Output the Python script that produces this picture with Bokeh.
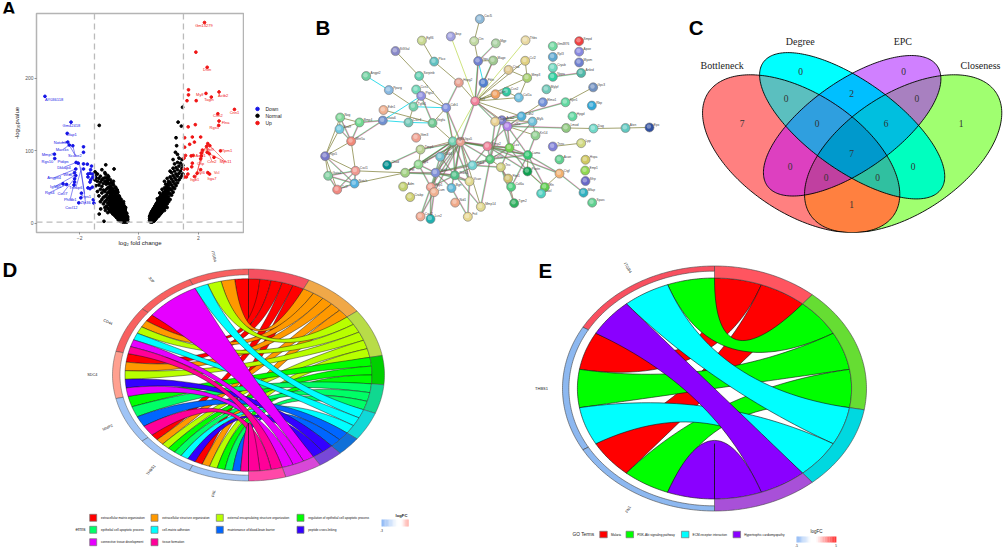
import math
from bokeh.plotting import figure
from bokeh.layouts import row, column
from bokeh.models import Range1d, FixedTicker, Span
from bokeh.core.properties import value
from bokeh.embed import file_html
from bokeh.resources import INLINE

SANS = "Liberation Sans"
SERIF = "Liberation Serif"

# ---------- A: volcano ----------
down_pts = [(-3.17,175),(-2.29,139.5),(-2.42,124),(-2.40,112),(-2.35,108),(-2.23,107),(-1.87,105.5),(-1.87,98),
 (-2.85,95.4),(-2.84,89.4),(-2.12,84),(-2.05,83),(-1.87,82),(-1.74,81.6),(-1.6,79),(-1.87,75),(-1.63,74),(-2.13,75),
 (-2.17,70),(-2.13,66),(-1.65,69),(-1.72,68),(-1.57,68),(-1.72,64),(-1.57,63),(-1.63,60),(-1.52,64),(-1.65,57),
 (-2.56,54.6),(-2.44,53.7),(-2.17,61.5),(-2.17,57),(-2.19,53),(-1.57,50),(-1.65,48),(-1.72,49),(-1.94,41.7),
 (-1.54,32.6),(-1.52,28),(-2.03,28.4),(-1.96,35.3)]
up_pts = [(2.21,276.6),(1.92,235.8),(2.30,215),(1.67,184),(1.67,177),(2.26,179),(2.70,181),(2.44,174),(1.93,169),
 (1.62,169),(3.22,157),(2.66,151),(2.70,141),(2.69,135),(1.90,136),(1.66,133),(1.54,118),(1.80,119),(2.08,119),
 (1.87,112),(1.54,105),(1.71,109),(2.32,110),(2.28,106),(2.39,107),(2.14,101),(2.75,100),(2.10,97),(1.57,93.6),
 (1.76,93),(1.83,93.6),(2.30,98),(2.37,96),(2.10,93),(1.52,90),(2.53,91),(2.08,89),(1.80,83),(1.78,78),(1.52,75),
 (1.63,75),(2.08,74),(2.32,70),(2.38,68),(1.65,68),(1.96,69),(1.54,64),(1.87,64.7),(1.6,64)]
normal_left = {-0.38:[3,6,9],-0.41:[2,5,8,11,14],-0.44:[3,6,9,12,15],-0.45:[22],-0.46:[2,4,8,11,14,17,20],-0.48:[3,5,7,10,13,16,19,22],
 -0.50:[2,6,9,12,15,18,21,24],-0.52:[27,30],-0.53:[4,7,10,13,16,19,23,26],-0.55:[2],-0.56:[3,6,9,12,15,18,21,25,28],
 -0.59:[5,8,11,14,17,20,24,27],-0.60:[30,33],-0.62:[4,7,10,13,16,19,22,26,30],-0.63:[3,33],-0.65:[6,9,12,15,18,21,25,29,36],
 -0.67:[35,38],-0.68:[7,11,14,17,20,23,27,32],-0.70:[5,10,24,28,33],-0.71:[8,12,15,18,22,26,30,35,43],-0.73:[38,42,46],
 -0.74:[10,13,17,20,24,28,33],-0.75:[8,12,16,21,25,30,35],-0.77:[9,14,18,22,26,31,37,48],-0.79:[44,50],-0.80:[12,16,20,24,29,34,40],
 -0.82:[11,15,18,22,26,30,36,42],-0.84:[14,19,23,27,32,38,44,75],-0.86:[48,53,58],-0.88:[13,18,22,26,31,36,43,55],
 -0.90:[15,20,24,28,33,38,45],-0.92:[17,21,25,30,35,41,47],-0.94:[50,56],-0.96:[16,23,28,33,39,46,52,60],-0.98:[18,25,30,35,42,48],
 -1.00:[19,26,31,37,44,50],-1.02:[55,60,64],-1.05:[15,21,28,35,42,49,56,66],-1.08:[58,62],-1.10:[24,32,39,47,54],-1.12:[80.7],
 -1.13:[18,63,68],-1.15:[22,30,37,44,58,70],-1.18:[3],-1.20:[27,36,46,55,62],-1.25:[33,42,51,60,74],-1.29:[20],-1.30:[30,47,57,65],
 -1.34:[13,135],-1.35:[38,53,62],-1.40:[44,58,68],-1.45:[52,63,69],-1.48:[60,65,71]}
normal_right = {0.36:[4,7,10],0.38:[5,8,11],0.39:[2,6,9,13],0.41:[3,6,9,12,15],0.43:[4,7,10,13,16],0.44:[2,5,8,11,14,17],
 0.46:[3,6,9,12,15,18],0.47:[4,7,10,13,16,19],0.49:[5,8,11,14,17,20],0.50:[3,6,9,12,15,18,21],0.52:[4,7,10,13,16,19,22],
 0.54:[5,8,11,14,17,20,24],0.56:[6,9,12,15,18,21,25],0.58:[7,10,13,16,19,23,27],0.60:[8,11,14,17,20,24,28],
 0.62:[9,12,15,18,21,25,29,34],0.64:[10,13,16,19,22,26,31],0.66:[10,14,17,20,24,28,33],0.68:[13,15,18,21,25,29,34],
 0.70:[12,16,19,23,27,31,36,42],0.72:[14,17,20,24,28,33],0.74:[14,18,22,26,30,35,39],0.76:[16,19,23,27,32,37],
 0.78:[16,20,24,28,33,38,47],0.80:[18,21,25,30,35,40],0.82:[19,23,27,32,37,43],0.84:[21,25,29,34,39],
 0.86:[18,26,31,36,42,49,58],0.88:[22,27,33,38,44],0.90:[24,29,35,41,47,54],0.93:[30,36,43,50],0.95:[22,27,33,40,46,53,62],
 0.98:[34,41,48,55],1.00:[30,37,45,52,58],1.05:[33,41,48,56,64,72],
 1.10:[39,46,53,61,70],1.15:[43,50,58,66,76,88],1.20:[48,55,63,72,82],1.23:[98],1.25:[52,60,68,77,118],1.27:[107],
 1.30:[56,65,74,84,95],1.32:[139.5],1.35:[60,69,79,90],1.40:[63,72,83],1.43:[134],1.45:[66,76,88],1.47:[160],1.48:[68,80]}
down_labels = [(-2.86,170.5,"AY036118"),(-2.28,135.5,"Gm42418"),(-2.28,123,"Cfap1"),(-2.66,111,"Notch3"),(-2.59,102,"Marcks"),
 (-2.16,93.6,"Scube2"),(-3.09,94.5,"Mmp7"),(-3.09,86,"Rgs10"),(-2.56,86,"Ptdips"),(-2.53,77.5,"Dkkap4"),(-2.36,67,"Wfdc1"),
 (-2.86,62.9,"Angptl4"),(-2.81,51.4,"Igfbp5"),(-3.01,42.7,"Rgs4"),(-2.58,40.8,"Cxcl7"),(-2.13,49,"Tnfaip6"),
 (-2.32,33,"Phldb1"),(-2.28,22,"Cxcl12"),(-1.80,28.4,"Zfp36"),(-1.79,37.6,"Trps1")]
up_labels = [(2.19,273,"Gm13279"),(2.30,211.4,"Dstn"),(2.05,178,"Mylf"),(2.84,176.5,"Actb2"),(2.36,170,"Tagln"),
 (3.22,153,"Cnn1"),(2.66,148,"Cnn2"),(2.92,139,"Flna"),(2.54,131.6,"Rgs5"),(2.97,100,"Tpm1"),(2.92,85,"Myh11"),
 (2.08,93,"Actn1"),(2.39,102,"Myl9"),(2.46,85,"Ccn2"),(2.08,83,"Cnp"),(2.08,70,"Myl6"),(2.62,70,"Vcl"),
 (2.46,62,"Itga7"),(1.88,61,"Itgb1")]
down_leaders = [(-2.12,84,-2.52,77.5),(-2.01,83,-1.83,41),(-2.17,70,-2.36,67),(-2.17,66,-2.81,51.4),(-2.56,54.6,-2.81,51.4),
 (-2.44,53.7,-3.0,42.7),(-2.19,61,-2.58,41),(-2.13,64,-2.32,33),(-1.96,73,-2.13,49),(-1.96,77.5,-1.80,28),
 (-2.40,112,-2.62,111),(-2.35,108,-2.15,93.6),(-2.23,107,-2.15,93.6),(-2.35,108,-2.56,102),(-2.13,75,-2.86,63)]
up_leaders = [(2.32,110,2.08,93),(2.32,110,2.92,85),(2.28,106,2.46,85),(2.13,100,1.91,61),(2.17,100,1.96,70),
 (2.21,103,2.08,83),(2.37,96,2.90,85),(2.25,103,2.39,102)]
x_ticks = [-2, 0, 2]
y_ticks = [0, 100, 200]
legend_names = ["Down", "Normal", "Up"]
COL_DOWN, COL_NORMAL, COL_UP = "#1414E6", "#000000", "#F01414"

def fig(w, h, xr, yr, **kw):
    p = figure(width=w, height=h, x_range=Range1d(*xr), y_range=Range1d(*yr), output_backend="svg",
               toolbar_location=None, x_axis_location=None, y_axis_location=None, min_border=0, **kw)
    p.grid.visible = False
    p.outline_line_color = None
    p.background_fill_alpha = 0
    p.border_fill_alpha = 0
    return p

def letter(p, x, y, s, size="20.5px"):
    p.text([x], [y], text=[s], text_font=value(SANS), text_font_style="bold", text_font_size=size,
           text_color="black", text_align="left", text_baseline="alphabetic")

pa = figure(width=244, height=264, x_range=Range1d(-3.455, 3.525), y_range=Range1d(-12.4, 289), output_backend="svg",
            toolbar_location=None, min_border_left=36, min_border_right=1, min_border_top=13, min_border_bottom=32)
pa.background_fill_alpha = 0
pa.border_fill_alpha = 0
pa.grid.visible = False
pa.outline_line_color = "#B4B4B4"
pa.outline_line_width = 1.5
pa.xaxis.ticker = FixedTicker(ticks=x_ticks)
pa.yaxis.ticker = FixedTicker(ticks=y_ticks)
for ax in (pa.xaxis[0], pa.yaxis[0]):
    ax.axis_line_color = None
    ax.major_tick_line_color = "#555555"
    ax.major_tick_line_width = 0.6
    ax.major_tick_out = 2
    ax.major_tick_in = 0
    ax.minor_tick_line_color = None
    ax.major_label_text_font = SANS
    ax.major_label_text_font_size = "5px"
    ax.major_label_text_color = "#555555"
    ax.major_label_standoff = 1
    ax.axis_label_text_font = SANS
    ax.axis_label_text_font_size = "6px"
    ax.axis_label_text_font_style = "normal"
    ax.axis_label_text_color = "#222222"
    ax.axis_label_standoff = 2
pa.xaxis.axis_label = "log\u2082 fold change"
pa.xaxis.axis_label_standoff = -3
pa.yaxis.axis_label = "-log\u2081\u2080pvalue"
pa.yaxis.major_label_orientation = "horizontal"
for v in (-1.5, 1.5):
    pa.add_layout(Span(location=v, dimension="height", line_color="#BBBBBB", line_dash="6 4", line_width=1.3))
pa.add_layout(Span(location=2, dimension="width", line_color="#BBBBBB", line_dash="6 4", line_width=1.3))
nx, ny = [], []
for d in (normal_left, normal_right):
    for k, ys in d.items():
        for v in ys:
            nx.append(k); ny.append(v)
pa.scatter(nx, ny, size=2.8, color=COL_NORMAL)
pa.scatter([a for a, b in down_pts], [b for a, b in down_pts], size=2.7, color=COL_DOWN)
pa.scatter([a for a, b in up_pts], [b for a, b in up_pts], size=2.7, color=COL_UP)
for segs, col in ((down_leaders, COL_DOWN), (up_leaders, COL_UP)):
    pa.segment([s[0] for s in segs], [s[1] for s in segs], [s[2] for s in segs], [s[3] for s in segs], line_color=col, line_width=0.5)
for labs, col in ((down_labels, COL_DOWN), (up_labels, COL_UP)):
    pa.text([l[0] for l in labs], [l[1] for l in labs], text=[l[2] for l in labs], text_color=col, text_font=value(SANS),
            text_font_size="4px", text_align="center", text_baseline="middle")
pl = fig(32, 32, (0, 32), (32, 0), margin=(0, -32, 0, 0))
letter(pl, 1.5, 19.5, "A", "19px")

# ---------- B: network ----------
net_x = [538,451,364,521,586,675,285,401,533,578,674,624,680,197,356,475,549,265,347,362,618,585,655,524,339,437,249,247,119,177,
 117,152,324,396,663,604,584,621,696,727,795,878,874,816,797,879,975,1047,705,347,457,480,561,627,360,757,842,74,260,419,
 516,569,682,354,777,855,601,681,854,165,314,405,463,777,855,83,162,110,308,391,401,453,507,623,632,733,722,849,329,464,
 541,641,875,360,390,502,757,836,836,757,836,757,757,842,738]
net_y = [20,83,98,100,108,97,136,174,172,170,171,204,233,226,226,250,251,277,275,298,283,292,304,317,337,341,349,387,376,394,
 418,462,394,396,372,386,391,408,391,321,321,267,333,372,414,416,414,412,441,449,462,464,480,486,492,481,469,516,548,518,
 549,527,512,546,528,529,556,571,568,569,576,576,585,579,606,587,615,637,626,628,646,631,607,597,627,628,651,648,664,684,
 699,686,684,734,743,735,118,100,138,157,177,196,229,215,274]
net_colors = ["#8CB8D8","#A0A0E0","#C8D890","#C0D8A0","#A8D0A0","#E8D8A0","#8888C8","#60C0C0","#7080D0","#A0C890","#E0D080",
 "#E0C890","#A8D070","#70D0A0","#60D0B0","#E8A090","#5080D0","#88B8E0","#70D8B8","#9090E0","#30C8A0","#F0A060","#70C0E0",
 "#F08098","#70D0A8","#8090E0","#F0B090","#7090D0","#80D898","#70D890","#70C8E0","#F08878","#70C8B8","#70C890","#50B0D8",
 "#8080D0","#E8D090","#B080E8","#70C0D8","#7090D8","#60D8A0","#7090C0","#30A8D8","#60D8A0","#90C880","#70D8C8","#60C8C0",
 "#3050A0","#90D090","#F0A090","#70D0B0","#E8A090","#F08098","#70D050","#B8D090","#8080D8","#D0D880","#7878C8","#009090",
 "#70C0D0","#70D0D0","#50C878","#30C870","#90D890","#60D090","#D0C860","#D0D080","#10A050","#90D850","#F09890","#A0D080",
 "#8090D8","#50C088","#F0B070","#6868C8","#80D0A0","#50B0E0","#F08880","#C0D070","#F0A090","#F0B090","#60B8D8","#E0D890",
 "#D0C070","#50D080","#60D050","#50D0C0","#30B0C0","#D0D070","#F0A888","#E0D890","#30B060","#60D090","#F0A890","#20B0B0",
 "#E8D890","#70D8A0","#F04040","#8888E0","#60A8D0","#7080D0","#70D8C0","#30D0A0","#50B8A8","#70C8B8"]
net_names = ["Cxcl5","Ibsp","Egfl6","Ctn","Mgp","Thbs","St3Gal","Pkcx","Itga","Mage","Ccl2","Ctsd","Mmp3","Angpt2","Serpinb","Hspg2","Fbln",
 "Pparg","Ccn1","Ptgs2","Ccn2","Dcn","Col1a","Fn1","Tgfb1","Cdh1","Edn1","Gata6","Nog","Bmp4","Sox9","Wnt5a","Cxcr4","Vegfa",
 "Cdh2","Acta2","Tagln","Col3a","Mylk","Elmo1","Sprr1","Gpc3","Rbp","Hpgd","Lmod","Dag","Atxn","Epx","Krt14","Ifitm3","Itgb1","Itga5",
 "Mmp2","Lox","Timp1","Tnnc","Lpp","Rgs5","Chad","Cd44","Sdc4","Col5a","Lama","Igf1","Acan","Hspa","Tnc","Postn","Emp1","Cxcl1",
 "Ptn","Itgb3","Thbs1","Ctgf","Sfrp","Gata4","Notch","Ccl7","Adm","Spp1","Lum","Bgn","Vcan","Fbn1","Col6a","Eln","Loxl","Mfap","Crabp",
 "Nid1","Mmp14","Tgm2","Sparc","Cxcl2","Lcn2","Fstl","Gm4876","Smpd","Apoe","Rpl3","Myom","Cryab","Nppa","Ankrd","Mylpf"]
net_olive = [(1,4),(3,8),(8,16),(4,9),(9,10),(10,17),(12,24),(13,24),(12,13),(11,13),(13,23),(21,24),(23,24),(22,24),(16,24),
 (7,15),(15,26),(18,25),(20,26),(27,34),(25,33),(26,34),(34,51),(24,36),(24,35),(29,30),(29,31),(30,31),(29,58),(31,58),(32,58),
 (32,70),(58,76),(58,70),(58,78),(70,71),(71,77),(71,51),(35,36),(36,39),(39,49),(35,40),(41,42),(38,49),(45,46),(46,47),(47,48),
 (56,57),(55,51),(55,64),(62,67),(67,84),(74,86),(63,68),(84,92),(52,91),(21,23),(11,24),(9,24)]
net_rainbow = [(5,9),(9,24),(10,24),(16,26),(20,25),(20,34),(26,51),(26,52),(24,37),(24,38),(29,32),(30,32),(31,32),(28,30),(28,32),
 (58,77),(70,76),(70,77),(70,78),(76,77),(76,78),(77,78),(36,38),(35,38),(38,39),(38,45),(37,41),(36,54),(38,54),(38,63),(36,62),
 (37,62),(38,53),(49,63),(39,54),(51,53),(52,53),(52,54),(53,54),(53,63),(53,74),(53,68),(52,63),(52,62),(51,60),(51,64),(51,72),
 (51,73),(51,80),(51,83),(51,71),(52,60),(52,64),(52,72),(52,73),(52,80),(52,81),(52,83),(52,82),(52,61),(52,71),(55,52),(64,71),
 (64,72),(64,80),(71,72),(71,73),(72,73),(72,80),(72,81),(73,80),(72,82),(72,83),(73,83),(80,81),(80,94),(81,94),(81,95),(80,95),
 (73,91),(62,91),(62,73),(62,63),(63,86),(63,85),(84,85),(67,85),(68,86),(74,88),(74,63),(86,87),(61,72),(61,67),(61,53),(83,96),
 (82,96),(62,72),(53,62),(54,63),(54,62),(54,67),(54,68),(60,73),(60,72),(55,59),(103,104),(67,92),(24,52)]
net_yellow = [(2,24),(6,24),(26,51),(24,51),(68,86)]
net_cyan = [(14,18),(9,17),(25,26),(28,33),(33,34),(28,20)]

pb = fig(426, 264, (-168, 1110), (792, 0))
def edge_lines(pairs, off=0.0):
    xs, ys = [], []
    for a, b in pairs:
        x0, y0, x1, y1 = net_x[a-1], net_y[a-1], net_x[b-1], net_y[b-1]
        L = math.hypot(x1-x0, y1-y0) or 1
        ox, oy = -(y1-y0)/L*off, (x1-x0)/L*off
        xs.append([x0+ox, x1+ox]); ys.append([y0+oy, y1+oy])
    return xs, ys
for pairs, col, off, lw in ((net_olive, "#8A8A4A", 0, 0.8), (net_yellow, "#C8E070", 0, 0.9), (net_cyan, "#20D8E8", 0, 0.9),
                            (net_rainbow, "#E870C8", -1.5, 0.55), (net_rainbow, "#60E0A0", 1.5, 0.55), (net_rainbow, "#707040", 0, 0.55)):
    xs, ys = edge_lines(pairs, off)
    pb.multi_line(xs, ys, line_color=col, line_width=lw)
pb.scatter(net_x, net_y, size=9, fill_color=net_colors, line_color="#777777", line_width=0.6)
pb.scatter([v-2 for v in net_x], [v-3 for v in net_y], size=4.5, fill_color="white", fill_alpha=0.35, line_color=None)
pb.text([v+13 for v in net_x], [v-10 for v in net_y], text=net_names, text_font=value(SANS), text_font_size="3.2px",
        text_color="#444444", text_align="left", text_baseline="middle")
letter(pb, 45, 52, "B")
# legend of panel A sits in this figure's left strip
leg_y = [345, 370, 396]
pb.scatter([-129]*3, leg_y, size=3.5, color=[COL_DOWN, COL_NORMAL, COL_UP])
pb.text([-105]*3, leg_y, text=legend_names, text_font=value(SANS), text_font_size="5px", text_color="#222222",
        text_align="left", text_baseline="middle")

# ---------- C: Venn ----------
venn_sets = ["Bottleneck", "Degree", "EPC", "Closeness"]
venn_values = [7, 0, 0, 1, 0, 2, 0, 0, 6, 7, 0, 0, 0, 0, 1]
venn_value_x = [215,390,699,872,347,543,739,440,647,543,359,728,467,621,543]
venn_value_y = [397,211,211,397,308,289,308,397,397,507,553,553,594,594,691]
venn_label_x = [155,389,697,930]
venn_label_y = [188,102,101,188]
region_color = {"B":"#FF8080","D":"#00FFFF","E":"#D080FF","C":"#A0FF70","BD":"#5BBFBF","DE":"#00BFFF","EC":"#A880C0",
 "BE":"#DD40C0","DC":"#00FFBF","BC":"#FF8040","BDE":"#2F9FDF","DEC":"#00BFDF","BEC":"#C040A0","BDC":"#30C0A0","BDEC":"#0099CC"}
ell = {"B":(392,507,358,202,43), "D":(545,406,353,150,43), "E":(545,406,336,150,-43), "C":(698,507,358,202,-43)}

def ellipse_poly(cx, cy, a, b, th, n=240):
    th = math.radians(th)
    pts = []
    for i in range(n):
        t = 2*math.pi*i/n
        pts.append((cx+a*math.cos(t)*math.cos(th)-b*math.sin(t)*math.sin(th),
                    cy+a*math.cos(t)*math.sin(th)+b*math.sin(t)*math.cos(th)))
    return pts
def clip(subj, cl):
    out = subj
    n = len(cl)
    for i in range(n):
        ax, ay = cl[i]; bx, by = cl[(i+1) % n]
        inp, out = out, []
        if not inp:
            break
        side = lambda q: (bx-ax)*(q[1]-ay)-(by-ay)*(q[0]-ax)
        for j in range(len(inp)):
            c, d = inp[j], inp[(j+1) % len(inp)]
            sc, sd = side(c), side(d)
            if sc >= 0:
                out.append(c)
            if sc*sd < 0:
                t = sc/(sc-sd)
                out.append((c[0]+t*(d[0]-c[0]), c[1]+t*(d[1]-c[1])))
    return out
polys = {k: ellipse_poly(*v) for k, v in ell.items()}
pc = fig(333, 264, (0, 999), (792, 0))
for key in sorted(region_color, key=len):
    poly = polys[key[0]]
    for k in key[1:]:
        poly = clip(poly, polys[k])
    if poly:
        pc.patch([q[0] for q in poly], [q[1] for q in poly], fill_color=region_color[key], line_color=None)
for k, poly in polys.items():
    pc.patch([q[0] for q in poly], [q[1] for q in poly], fill_color=None, line_color="black", line_width=0.9)
pc.text(venn_value_x, venn_value_y, text=[str(v) for v in venn_values], text_font=value(SERIF), text_font_size="9.5px",
        text_color="#333333", text_align="center", text_baseline="middle")
pc.text(venn_label_x, venn_label_y, text=venn_sets, text_font=value(SERIF), text_font_size="10px",
        text_color="#222222", text_align="center", text_baseline="middle")
letter(pc, 55, 52, "C")

# ---------- D / E: chords ----------
d_genes = ["ITGB4", "JUP", "CD44", "SDC4", "MMP2", "THBS1", "FN1"]
d_terms = ["extracellular matrix organization", "extracellular structure organization",
 "external encapsulating structure organization", "regulation of epithelial cell apoptotic process",
 "epithelial cell apoptotic process", "cell-matrix adhesion", "maintenance of blood-brain barrier",
 "peptide cross-linking", "connective tissue development", "tissue formation"]
d_colors = ["#FF0000","#FF9900","#B8FF00","#00FF00","#00FF66","#00FFFF","#0066FF","#3300FF","#E600FF","#FF0099"]
d_ring = ["#F65060","#F0A848","#B8DC48","#00D000","#10D890","#10D8D8","#1070D8","#7848D8","#D848D8","#FF48A8"]
d_gene_ring = ["#F86060","#F86060","#F86060","#FFA090","#A0C4F5","#A0C4F5","#A0C4F5"]
d_links = [[0,1,2,5],[8],[0,1,2,5,8,9],[0,1,2,7,8],[3,4,6,9],[0,1,2,3,4,5,7],[0,1,2,3,4,6,9]]
e_genes = ["ITGB4", "THBS1", "FN1"]
e_terms = ["Malaria", "PI3K-Akt signaling pathway", "ECM-receptor interaction", "Hypertrophic cardiomyopathy"]
e_colors = ["#FF0000","#00FF00","#00FFFF","#8A00FF"]
e_ring = ["#FF5560","#66DD33","#00D8E0","#A850D8"]
e_gene_ring = ["#F85060","#8DB8F0","#8DB8F0"]
e_links = [[1,2,3],[0,1,2],[0,1,3]]

def draw_chord(p, cx, cy, rx, ry, genes, terms, colors, ring, gene_ring, links, r_in, r_gene, lw, label_r, label_size):
    def pos(t, r):
        a = math.radians(t)
        return cx+rx*r*math.sin(a), cy-ry*r*math.cos(a)
    def arc(t0, t1, r):
        n = max(2, int(abs(t1-t0))+2)
        return [pos(t0+(t1-t0)*i/(n-1), r) for i in range(n)]
    def bez(t0, t1, r):
        P, Q = pos(t0, r), pos(t1, r)
        res = []
        for i in range(1, 30):
            s = i/30
            res.append(((1-s)**2*P[0]+2*s*(1-s)*cx+s*s*Q[0], (1-s)**2*P[1]+2*s*(1-s)*cy+s*s*Q[1]))
        return res
    N = sum(len(l) for l in links)
    G = len(genes)
    unit = 180.0/N
    counts = [sum(i in l for l in links) for i in range(len(terms))]
    starts = [sum(counts[:i])*unit for i in range(len(terms))]
    used = [0]*len(terms)
    ribbons = [[] for _ in terms]
    for k, l in enumerate(links):
        end = 360-180.0/G*k
        w = 180.0/G/len(l)
        for m, ti in enumerate(l):
            b1, b0 = end-w*m, end-w*(m+1)
            a0 = starts[ti]+used[ti]*unit
            a1 = a0+unit
            used[ti] += 1
            ribbons[ti].append(arc(a0, a1, r_in)+bez(a1, b0, r_in)+arc(b0, b1, r_in)+bez(b1, a0, r_in))
    for ti, rs in enumerate(ribbons):
        for pts in rs:
            p.patch([q[0] for q in pts], [q[1] for q in pts], fill_color=colors[ti], line_color="#111111", line_width=lw)
    for ti in range(len(terms)):
        t0, t1 = starts[ti], starts[ti]+counts[ti]*unit
        pts = arc(t0, t1, 1.0)+arc(t1, t0, r_in)
        p.patch([q[0] for q in pts], [q[1] for q in pts], fill_color=ring[ti], line_color="#444444", line_width=lw)
    for k in range(G):
        t1 = 360-180.0/G*k
        t0 = t1-180.0/G
        pts = arc(t0, t1, 1.0)+arc(t1, t0, r_gene)
        p.patch([q[0] for q in pts], [q[1] for q in pts], fill_color=gene_ring[k], line_color="#444444", line_width=lw)
        tm = (t0+t1)/2
        lx, ly = pos(tm, label_r)
        p.text([lx], [ly], text=[genes[k]], angle=[270-tm], angle_units="deg", text_font=value(SANS),
               text_font_size=label_size, text_color="#222222", text_align="center", text_baseline="middle")

def colorbar(p, x0, x1, y0, y1, c0, c1, n=12):
    h = lambda c: [int(c[i:i+2], 16) for i in (1, 3, 5)]
    a, b = h(c0), h(c1)
    for i in range(n):
        f = (i+0.5)/n
        col = "#%02X%02X%02X" % tuple(int(a[j]+(b[j]-a[j])*f) for j in range(3))
        p.quad(left=[x0+(x1-x0)*i/n], right=[x0+(x1-x0)*(i+1)/n+0.2], bottom=[y1], top=[y0], fill_color=col, line_color=None)

pd = fig(500, 298, (0, 500), (548, 250))
draw_chord(pd, 248, 374.5, 136, 106, d_genes, d_terms, d_colors, d_ring, d_gene_ring, d_links, 0.908, 0.945, 0.45, 1.148, "3.8px")
letter(pd, 2, 269, "D")
sw_x = [92.7,154,219.3,300,92.7,154,219.3,300,92.7,154]
sw_y = [517.3,517.3,517.3,517.3,529.3,529.3,529.3,529.3,541.7,541.7]
pd.rect(sw_x, sw_y, width=7, height=7, fill_color=d_colors, line_color="#777777", line_width=0.7)
pd.text([v+7.8 for v in sw_x], sw_y, text=d_terms, text_font=value(SANS), text_font_size="3.1px", text_color="#111111",
        text_align="left", text_baseline="middle")
pd.text([85], [529.3], text=["erms"], text_font=value(SANS), text_font_size="4.5px", text_color="#222222", text_align="right", text_baseline="middle")
colorbar(pd, 381, 396.7, 519, 526, "#8DB8F5", "#FFFFFF")
colorbar(pd, 401, 408, 519, 526, "#FFFFFF", "#FFA8A0", 6)
pd.text([401], [514.5], text=["logFC"], text_font=value(SANS), text_font_style="bold", text_font_size="4.2px", text_color="#222222", text_align="center", text_baseline="middle")
pd.text([381], [530], text=["-3"], text_font=value(SANS), text_font_size="3px", text_color="#222222", text_align="center", text_baseline="middle")

pe = fig(503, 298, (500, 1003), (548, 250))
draw_chord(pe, 714, 388, 152, 122.5, e_genes, e_terms, e_colors, e_ring, e_gene_ring, e_links, 0.902, 0.958, 0.6, 1.138, "4px")
letter(pe, 538, 270, "E")
se_x = [603,629.3,684.7,736.3]
se_y = [534,534,534,534]
pe.rect(se_x, se_y, width=7.5, height=6.5, fill_color=e_colors, line_color="#777777", line_width=0.7)
pe.text([v+7.4 for v in se_x], se_y, text=e_terms, text_font=value(SANS), text_font_size="3.1px", text_color="#111111",
        text_align="left", text_baseline="middle")
pe.text([572], [534], text=["GO Terms"], text_font=value(SANS), text_font_size="4.8px", text_color="#222222", text_align="left", text_baseline="middle")
colorbar(pe, 796, 810, 536, 542, "#8DB8F5", "#FFFFFF")
colorbar(pe, 815.7, 835.7, 536, 542, "#FFFFFF", "#FF3030")
pe.text([816], [531], text=["logFC"], text_font=value(SANS), text_font_size="4.5px", text_color="#222222", text_align="center", text_baseline="middle")
pe.text([796, 835.7], [545, 545], text=["-5", "5"], text_font=value(SANS), text_font_size="3px", text_color="#222222", text_align="center", text_baseline="middle")

top = row(pl, pa, pb, pc)
bottom = row(pd, pe, margin=(-14, 0, 0, 0))
page = column(top, bottom)
open("out.html", "w").write(file_html(page, INLINE))
